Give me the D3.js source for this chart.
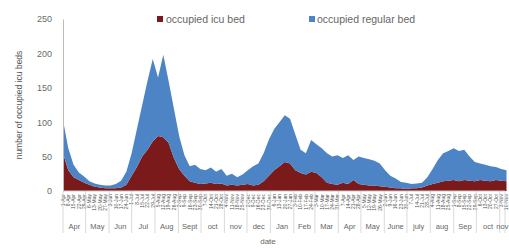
<!DOCTYPE html>
<html><head><meta charset="utf-8">
<script src="https://cdn.jsdelivr.net/npm/d3@7"></script>
<style>body{margin:0;background:#fff}svg{display:block}text{font-family:"Liberation Sans",Arial,sans-serif}</style>
</head><body><svg id="c" width="509" height="249"></svg>
<script>
// weekly readings starting 2020-04-01
const startDate = "2020-04-01";
const endDate = "2021-11-08";
const icuBeds = [55,30,20,16,12,9,6,5,4,4,4,5,9,22,35,50,60,72,80,78,70,48,32,22,14,12,10,11,12,10,11,8,9,8,9,10,8,9,14,22,30,36,42,40,30,26,24,28,26,20,12,10,9,12,10,16,10,9,8,8,7,6,5,4,4,3,4,4,5,8,10,12,14,15,16,14,16,15,14,16,15,14,16,15,14];
const regularBeds = [48,32,18,11,9,5,5,4,4,4,6,10,19,33,55,75,100,120,85,120,90,72,48,30,22,26,22,19,22,18,21,14,16,12,15,20,28,31,41,53,60,64,68,65,52,34,31,46,42,42,43,40,43,36,42,29,40,39,38,36,33,24,17,14,9,9,6,7,7,12,22,33,41,43,46,44,44,35,28,24,23,22,19,17,16];
const monthLabels = ["Apr","May","Jun","Jul","Aug","Sept","oct","nov","dec","Jan","Feb","Mar","Apr","May","June","july","aug","Sep","oct","nov"];
const yTicks = [0,50,100,150,200,250];
const seriesNames = ["occupied icu bed","occupied regular bed"];
const colors = ["#7b1a1a","#4d84c6"];

const parse = d3.timeParse("%Y-%m-%d");
const t0 = parse(startDate), t1 = parse(endDate);
const data = icuBeds.map((v,i)=>({date:d3.timeDay.offset(t0,i*7), icu:v, regular:regularBeds[i]}));

const svg = d3.select("#c");
const x = d3.scaleTime().domain([t0,t1]).range([63,505]);
const y = d3.scaleLinear().domain([0,250]).range([191,19]);

const stack = d3.stack().keys(["icu","regular"]);
const layers = stack(data);
const area = d3.area().x(d=>x(d.data.date)).y0(d=>y(d[0])).y1(d=>y(d[1]));
svg.append("g").selectAll("path").data(layers).join("path")
  .attr("d",area).attr("fill",(d,i)=>colors[i]);

// y axis
const yAxis = svg.append("g").attr("transform","translate(63,0)")
  .call(d3.axisLeft(y).tickValues(yTicks).tickSize(0).tickPadding(11));
yAxis.select(".domain").attr("stroke","#bbb");
yAxis.selectAll("text").attr("fill","#6a6a6a").attr("font-size",9);

// x axis baseline
svg.append("line").attr("x1",63).attr("x2",505).attr("y1",y(0)).attr("y2",y(0)).attr("stroke","#ccc");

// date tick labels (rotated)
const fmt = d3.timeFormat("%-d-%b");
svg.append("g").selectAll("text").data(data).join("text")
  .attr("transform",d=>`translate(${x(d.date)+1.8},194) rotate(-90)`)
  .attr("text-anchor","end").attr("font-size",5).attr("fill","#555")
  .text(d=>fmt(d.date));

// month groups
const months = d3.timeMonth.range(d3.timeMonth.floor(t0), t1);
const bounds = months.map(m=>m<t0?t0:m).concat([t1]);
svg.append("g").selectAll("line").data(bounds).join("line")
  .attr("x1",d=>x(d)).attr("x2",d=>x(d)).attr("y1",191).attr("y2",233)
  .attr("stroke","#d0d0d0").attr("stroke-width",0.8);
svg.append("g").selectAll("text").data(months).join("text")
  .attr("x",(d,i)=>(x(bounds[i])+x(bounds[i+1]))/2).attr("y",229)
  .attr("text-anchor","middle").attr("font-size",7.5).attr("fill","#666")
  .text((d,i)=>monthLabels[i]);

// axis titles
svg.append("text").attr("x",268).attr("y",244).attr("text-anchor","middle")
  .attr("font-size",8).attr("fill","#666").text("date");
svg.append("text").attr("transform","translate(22,105) rotate(-90)").attr("text-anchor","middle")
  .attr("font-size",8.5).attr("fill","#555").text("number of occupied icu beds");

// legend
const lg = [{x:157,tx:166},{x:309,tx:317}];
lg.forEach((l,i)=>{
  svg.append("rect").attr("x",l.x).attr("y",16).attr("width",6).attr("height",6).attr("fill",colors[i]);
  svg.append("text").attr("x",l.tx).attr("y",22.5).attr("font-size",10.5).attr("fill","#666").text(seriesNames[i]);
});
</script></body></html>
